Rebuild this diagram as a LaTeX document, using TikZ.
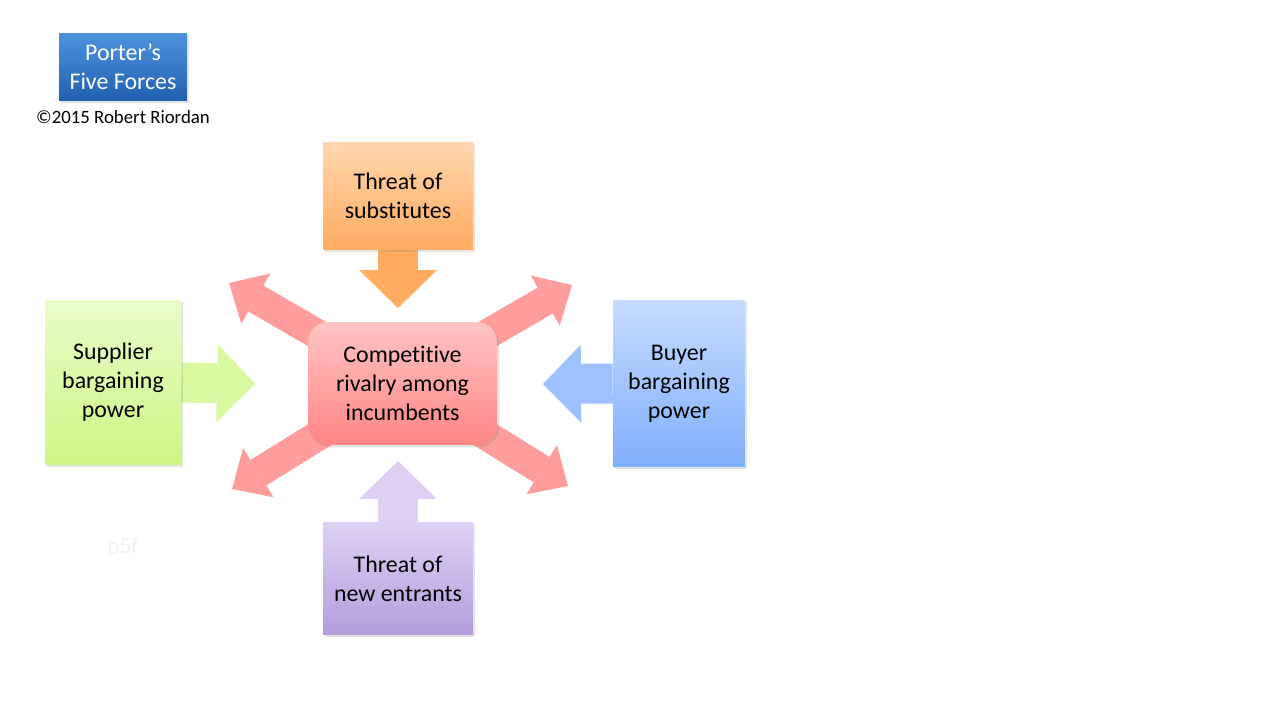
\documentclass[tikz,border=0pt]{standalone}
\usepackage{fontspec}
\setmainfont{Carlito}[Ligatures=NoCommon]
\usetikzlibrary{arrows.meta,shadows,backgrounds}

\definecolor{titletop}{HTML}{4D93DE}
\definecolor{titlebot}{HTML}{2160B0}
\definecolor{substtop}{HTML}{FFD6AE}
\definecolor{substbot}{HTML}{FFAC60}
\definecolor{entrtop}{HTML}{DED1F3}
\definecolor{entrbot}{HTML}{B39DDC}
\definecolor{supptop}{HTML}{E9FDCA}
\definecolor{suppbot}{HTML}{CCF682}
\definecolor{buyertop}{HTML}{C6DBFF}
\definecolor{buyerbot}{HTML}{80AFFB}
\definecolor{rivaltop}{HTML}{FFC4C4}
\definecolor{rivalbot}{HTML}{FF8585}
\definecolor{rivalarr}{HTML}{FF9C9C}

\tikzset{
  forcebox/.style={inner sep=0pt, align=center, font=\fontsize{13.6}{16.5}\selectfont,
    drop shadow={shadow xshift=1.3pt, shadow yshift=-1.3pt, opacity=0.22}},
  forcearrow/.style={line width=0.8cm, -{Triangle[width=1.56cm,length=0.76cm,line width=0pt]}},
  rivalarrow/.style={line width=0.6cm, draw=rivalarr, -{Triangle[width=1.16cm,length=0.62cm,line width=0pt]}},
}

\begin{document}
\begin{tikzpicture}[x=0.02cm, y=0.02cm]
  \useasboundingbox (0,0) rectangle (1280,-720);

  % title
  \node[forcebox, text=white, top color=titletop, bottom color=titlebot,
    minimum width=2.56cm, minimum height=1.36cm] (title) at (123,-67) {Porter’s\\Five Forces};
  \node[font=\fontsize{10.7}{13}\selectfont] (copy) at (123,-117) {©2015 Robert Riordan};

  % the five forces
  \node[forcebox, top color=substtop, bottom color=substbot,
    minimum width=3cm, minimum height=2.16cm] (subst) at (398,-196) {Threat of\\substitutes};
  \node[forcebox, top color=entrtop, bottom color=entrbot,
    minimum width=3cm, minimum height=2.26cm] (entr) at (398,-578.5) {Threat of\\new entrants};
  \node[forcebox, top color=supptop, bottom color=suppbot,
    minimum width=2.72cm, minimum height=3.3cm] (supp) at (113,-382.5) {Supplier\\bargaining\\power};
  \node[forcebox, top color=buyertop, bottom color=buyerbot,
    minimum width=2.64cm, minimum height=3.34cm] (buyer) at (679,-383.5) {Buyer\\bargaining\\power};
  \node[forcebox, rounded corners=0.4cm, top color=rivaltop, bottom color=rivalbot,
    minimum width=3.78cm, minimum height=2.46cm] (rival) at (402.5,-383.5) {Competitive\\rivalry among\\incumbents};

  \node[font=\fontsize{13}{15}\selectfont, text=black!5] (mark) at (123,-548) {p5f};

  % arrow tips
  \coordinate (substtip) at (398,-308);
  \coordinate (entrtip) at (398,-461);
  \coordinate (supptip) at (255,-384);
  \coordinate (buyertip) at (543,-384);
  \coordinate (tl) at (229,-283);
  \coordinate (tr) at (572,-285);
  \coordinate (bl) at (232,-489);
  \coordinate (br) at (568,-486);

  \begin{scope}[on background layer]
    \draw[forcearrow, draw=substbot] (subst.south) -- (substtip);
    \draw[forcearrow, draw=entrtop] (entr.north) -- (entrtip);
    \draw[forcearrow, draw=supptop!40!suppbot] (supp.east) -- (supptip);
    \draw[forcearrow, draw=buyertop!40!buyerbot] (buyer.west) -- (buyertip);
    \draw[rivalarrow] (rival.center) -- (tl);
    \draw[rivalarrow] (rival.center) -- (tr);
    \draw[rivalarrow] (rival.center) -- (bl);
    \draw[rivalarrow] (rival.center) -- (br);
  \end{scope}
\end{tikzpicture}
\end{document}
